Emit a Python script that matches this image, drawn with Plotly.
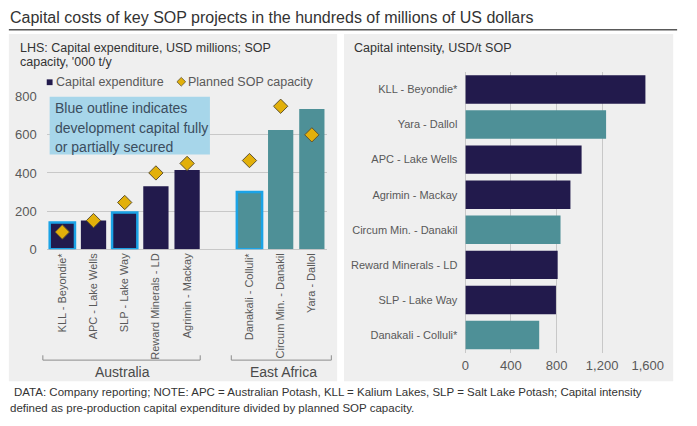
import plotly.graph_objs as go

W, H = 697, 426

# left chart: capex and planned capacity per project
lhs_projects = ["KLL - Beyondie*", "APC - Lake Wells", "SLP - Lake Way", "Reward Minerals - LD",
                "Agrimin - Mackay", "Danakali - Colluli*", "Circum Min. - Danakil", "Yara - Dallol"]
lhs_region = ["Australia", "Australia", "Australia", "Australia", "Australia",
              "East Africa", "East Africa", "East Africa"]
capex = [140, 150, 192, 330, 415, 300, 625, 735]
sop_capacity = [90, 150, 245, 400, 450, 465, 750, 600]
secured = [True, False, True, False, False, True, False, False]

# right chart: capital intensity, top to bottom
rhs_projects = ["KLL - Beyondie*", "Yara - Dallol", "APC - Lake Wells", "Agrimin - Mackay",
                "Circum Min. - Danakil", "Reward Minerals - LD", "SLP - Lake Way", "Danakali - Colluli*"]
rhs_region = ["Australia", "East Africa", "Australia", "Australia",
              "East Africa", "Australia", "Australia", "East Africa"]
intensity = [1580, 1235, 1020, 922, 835, 810, 795, 648]

NAVY = "#221a4c"
TEAL = "#4e9097"
OUTLINE = "#1ba3e6"
GOLD = "#e2b00a"
GREY_TXT = "#595959"
region_col = {"Australia": NAVY, "East Africa": TEAL}


def px_x(p):
    return p / W


def px_y(p):
    return 1 - p / H


# leave an empty slot between the two regions
pos = [i + (1 if r == "East Africa" else 0) for i, r in enumerate(lhs_region)]

fig = go.Figure()

fig.add_trace(go.Bar(
    x=pos, y=capex, name="Capital expenditure", showlegend=False,
    marker=dict(color=[region_col[r] for r in lhs_region],
                line=dict(color=[OUTLINE if s else region_col[r] for s, r in zip(secured, lhs_region)],
                          width=[2.5 if s else 0 for s in secured])),
    xaxis="x", yaxis="y", hoverinfo="skip"))

fig.add_trace(go.Scatter(
    x=pos, y=sop_capacity, mode="markers", name="Planned SOP capacity", showlegend=False,
    marker=dict(symbol="diamond", size=11, color=GOLD, line=dict(color="#5e5230", width=1)),
    xaxis="x", yaxis="y", hoverinfo="skip"))

fig.add_trace(go.Bar(
    y=rhs_projects, x=intensity, orientation="h", showlegend=False,
    marker=dict(color=[region_col[r] for r in rhs_region], line=dict(width=0)),
    xaxis="x2", yaxis="y2", hoverinfo="skip"))

axfont = dict(family="Arial", size=13, color=GREY_TXT)

fig.update_layout(
    width=W, height=H, margin=dict(l=0, r=0, t=0, b=0),
    paper_bgcolor="white", plot_bgcolor="rgba(0,0,0,0)",
    bargap=0.19, font=dict(family="Arial", color="#333333"),
    xaxis=dict(domain=[px_x(44), px_x(333)], range=[-0.5, 8.5],
               tickvals=pos, ticktext=lhs_projects, tickangle=-90,
               tickfont=dict(family="Arial", size=11, color=GREY_TXT),
               showgrid=False, zeroline=False, showline=False, ticks="",
               ticklabelstandoff=1, anchor="y"),
    yaxis=dict(domain=[px_y(251), px_y(93)], range=[0, 800], dtick=200,
               tickfont=axfont, gridcolor="#c8c8c8", gridwidth=1,
               zeroline=True, zerolinecolor="#c8c8c8", zerolinewidth=1,
               showline=False, ticks="", ticklabelstandoff=9, anchor="x"),
    xaxis2=dict(domain=[px_x(475), px_x(662.7)], range=[0, 1600], dtick=400,
                tickformat=",d", tickfont=axfont, gridcolor="#c8c8c8", gridwidth=1,
                zeroline=True, zerolinecolor="#c8c8c8", zerolinewidth=1,
                showline=False, ticks="", ticklabelstandoff=3, anchor="y2"),
    yaxis2=dict(domain=[px_y(358.2), px_y(67.3)], autorange="reversed",
                tickfont=dict(family="Arial", size=11, color=GREY_TXT),
                showgrid=False, zeroline=False, showline=False, ticks="",
                ticklabelstandoff=7, anchor="x2"),
)

# panels, title rule, note box, legend keys, region brackets
shapes = [
    dict(type="rect", xref="paper", yref="paper", x0=px_x(5), x1=px_x(343), y0=px_y(388), y1=px_y(28),
         fillcolor="#efefef", line=dict(width=0), layer="below"),
    dict(type="rect", xref="paper", yref="paper", x0=px_x(350), x1=px_x(689), y0=px_y(388), y1=px_y(28),
         fillcolor="#efefef", line=dict(width=0), layer="below"),
    dict(type="line", xref="paper", yref="paper", x0=px_x(5), x1=px_x(693), y0=px_y(23.5), y1=px_y(23.5),
         line=dict(color="#595959", width=1.5)),
    dict(type="rect", xref="paper", yref="paper", x0=px_x(47), x1=px_x(212), y0=px_y(153), y1=px_y(93),
         fillcolor="#a7d6ea", line=dict(width=0), layer="above"),
    dict(type="rect", xref="paper", yref="paper", x0=px_x(44), x1=px_x(50), y0=px_y(81), y1=px_y(75),
         fillcolor=NAVY, line=dict(width=0)),
    dict(type="path", xref="paper", yref="paper",
         path=f"M {px_x(182.5)},{px_y(73)} L {px_x(187)},{px_y(77.5)} L {px_x(182.5)},{px_y(82)} "
              f"L {px_x(178)},{px_y(77.5)} Z",
         fillcolor=GOLD, line=dict(color="#5e5230", width=0.8)),
]
for x0, x1 in [(40, 202), (234, 337)]:
    shapes.append(dict(
        type="path", xref="paper", yref="paper",
        path=f"M {px_x(x0)},{px_y(361)} L {px_x(x0)},{px_y(366)} L {px_x(x1)},{px_y(366)} L {px_x(x1)},{px_y(361)}",
        line=dict(color="#8c8c8c", width=1)))
fig.update_layout(shapes=shapes)


def txt(text, x, y, size, color="#333333", xanchor="left"):
    return dict(text=text, x=px_x(x), y=px_y(y), xanchor=xanchor, yanchor="middle",
                xref="paper", yref="paper", showarrow=False,
                font=dict(family="Arial", size=size, color=color))


ann = [
    txt("Capital costs of key SOP projects in the hundreds of millions of US dollars", 4, 10.5, 16),
    txt("LHS: Capital expenditure, USD millions; SOP", 14, 43, 12.5),
    txt("capacity, '000 t/y", 14, 57, 12.5),
    txt("Capital intensity, USD/t SOP", 358, 43, 12.5),
    txt("Capital expenditure", 51, 77.5, 12.5, GREY_TXT),
    txt("Planned SOP capacity", 187, 77.5, 12.5, GREY_TXT),
    txt("Blue outline indicates", 50, 105, 14, "#3b4d5e"),
    txt("development capital fully", 50, 125, 14, "#3b4d5e"),
    txt("or partially secured", 50, 145, 14, "#3b4d5e"),
    txt("Australia", 122.5, 378, 14, "#4a4a4a", "center"),
    txt("East Africa", 287.5, 378, 14, "#4a4a4a", "center"),
    txt("DATA: Company reporting; NOTE: APC = Australian Potash, KLL = Kalium Lakes, "
        "SLP = Salt Lake Potash; Capital intensity", 8, 399, 11.5),
    txt("defined as pre-production capital expenditure divided by planned SOP capacity.", 4, 416, 11.5),
]
fig.update_layout(annotations=ann)

# page margin off so the figure fills the window exactly
fig.write_html("out.html", config={"displayModeBar": False},
               post_script="document.body.style.margin='0';document.body.style.overflow='hidden';")
